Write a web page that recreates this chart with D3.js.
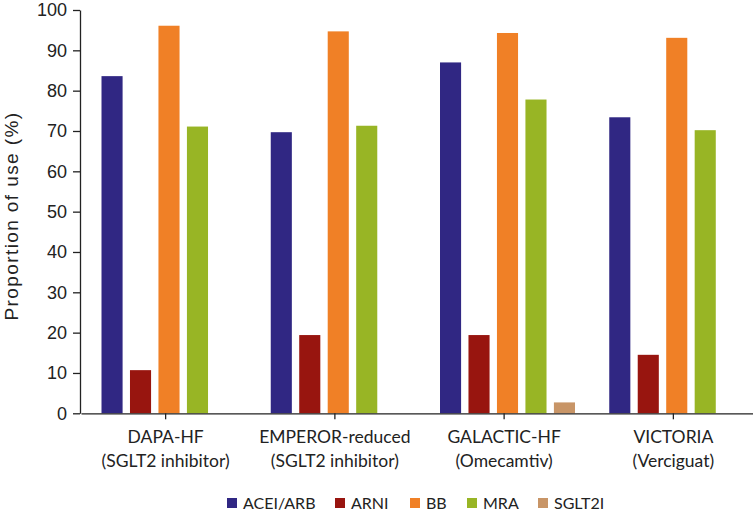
<!DOCTYPE html>
<html><head><meta charset="utf-8">
<script src="https://cdn.jsdelivr.net/npm/d3@7"></script>
<style>body{margin:0;background:#fff}svg{display:block}</style>
</head><body>
<script>
const trials = ["DAPA-HF", "EMPEROR-reduced", "GALACTIC-HF", "VICTORIA"];
const trialSub = ["(SGLT2 inhibitor)", "(SGLT2 inhibitor)", "(Omecamtiv)", "(Verciguat)"];
const seriesNames = ["ACEI/ARB", "ARNI", "BB", "MRA", "SGLT2I"];
const seriesColors = ["#302783", "#98150f", "#f08026", "#98b525", "#c89567"];
const aceiArb = [83.6, 69.7, 87.0, 73.4];
const arni = [10.7, 19.4, 19.4, 14.5];
const bb = [96.1, 94.7, 94.3, 93.1];
const mra = [71.1, 71.3, 77.8, 70.2];
const sglt2i = [null, null, 2.7, null];
const yTicks = [0, 10, 20, 30, 40, 50, 60, 70, 80, 90, 100];
const seriesValues = [aceiArb, arni, bb, mra, sglt2i];

const W = 753, H = 516;
const svg = d3.select("body").append("svg").attr("width", W).attr("height", H);

const x0 = d3.scaleBand().domain(trials).range([81, 758]).paddingInner(0).paddingOuter(0);
const x1 = d3.scaleBand().domain(seriesNames).range([20.5, 20.5 + 5 * 27]).paddingInner(7/27).paddingOuter(0);
const y = d3.scaleLinear().domain([0, 100]).range([413.3, 10]);

// bars
trials.forEach((t, i) => {
  const g = svg.append("g").attr("transform", `translate(${x0(t)},0)`);
  seriesNames.forEach((s, j) => {
    const v = seriesValues[j][i];
    if (v == null) return;
    g.append("rect")
      .attr("x", x1(s))
      .attr("width", x1.bandwidth())
      .attr("y", y(v))
      .attr("height", y(0) - y(v))
      .attr("fill", seriesColors[j]);
  });
});

// y axis
const yAxis = d3.axisLeft(y).tickValues(yTicks).tickSize(7).tickPadding(6).tickSizeOuter(0);
const ya = svg.append("g").attr("transform", "translate(80,0)").call(yAxis);
ya.selectAll("text").attr("font-family", "Liberation Sans, Arial, sans-serif").attr("font-size", 18).attr("fill", "#222");
ya.selectAll("line").attr("stroke", "#222").attr("stroke-width", 1.3);
ya.select(".domain").attr("stroke", "#222").attr("stroke-width", 1.3);

// x axis
const xAxis = d3.axisBottom(x0).tickSize(6).tickSizeOuter(0).tickFormat("");
const xa = svg.append("g").attr("transform", "translate(0,413.3)").call(xAxis);
xa.selectAll("line").attr("stroke", "#222").attr("stroke-width", 1.3);
xa.select(".domain").attr("stroke", "#222").attr("stroke-width", 1.3);

const catFont = "Lato, 'Noto Sans', sans-serif";
trials.forEach((t, i) => {
  const cx = x0(t) + x0.bandwidth() / 2;
  svg.append("text").attr("x", cx).attr("y", 443).attr("text-anchor", "middle")
    .attr("font-family", catFont).attr("font-size", 17.5).attr("fill", "#222").text(t);
  svg.append("text").attr("x", cx).attr("y", 467).attr("text-anchor", "middle")
    .attr("font-family", catFont).attr("font-size", 17.5).attr("fill", "#222").text(trialSub[i]);
});

// y label
svg.append("text")
  .attr("transform", `translate(17.5,216) rotate(-90)`)
  .attr("text-anchor", "middle")
  .attr("font-family", "Liberation Sans, Arial, sans-serif")
  .attr("font-size", 19).attr("letter-spacing", 1.4).attr("fill", "#222")
  .text("Proportion of use (%)");

// legend
const legX = [227, 335, 410, 467, 538];
seriesNames.forEach((s, j) => {
  const g = svg.append("g").attr("transform", `translate(${legX[j]},498)`);
  g.append("rect").attr("width", 10).attr("height", 10).attr("fill", seriesColors[j]);
  g.append("text").attr("x", 16).attr("y", 10.5).attr("font-family", catFont)
    .attr("font-size", 16).attr("fill", "#222").text(s);
});
</script>
</body></html>
